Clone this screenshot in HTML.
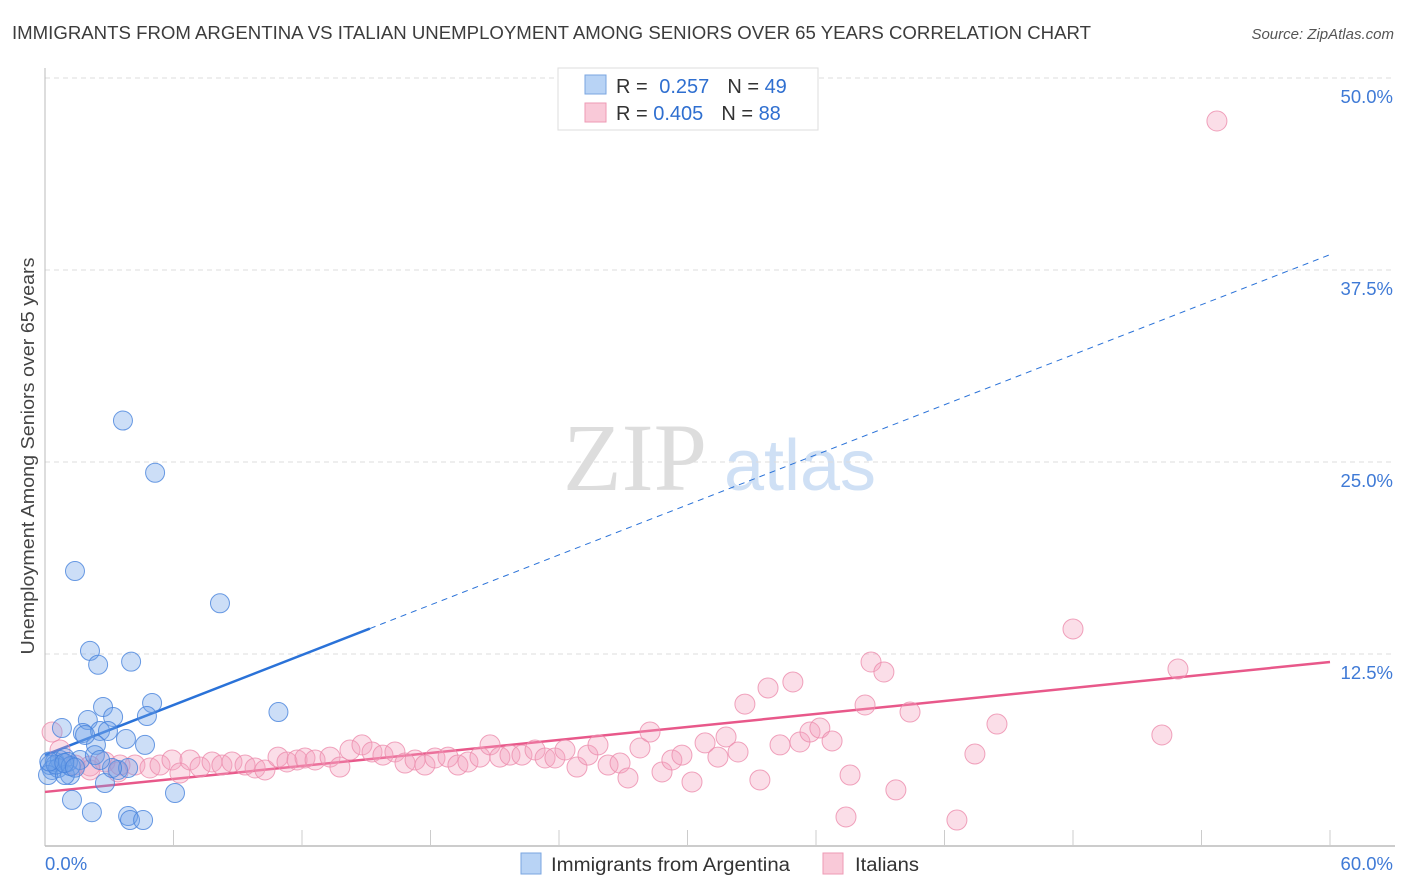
<!DOCTYPE html>
<html><head><meta charset="utf-8"><style>
body{margin:0;background:#fff;font-family:"Liberation Sans",sans-serif;}
#c{position:absolute;left:0;top:0;width:1406px;height:892px;}
</style></head><body>
<svg id="c" width="1406" height="892" font-family="Liberation Sans, sans-serif">
<text x="12" y="39" font-size="18" fill="#3c3c3c" textLength="1079" lengthAdjust="spacingAndGlyphs">IMMIGRANTS FROM ARGENTINA VS ITALIAN UNEMPLOYMENT AMONG SENIORS OVER 65 YEARS CORRELATION CHART</text>
<text x="1394" y="39" font-size="15" fill="#555" text-anchor="end" font-style="italic">Source: ZipAtlas.com</text>
<text transform="translate(34,456) rotate(-90)" font-size="18" fill="#444" text-anchor="middle" textLength="397" lengthAdjust="spacingAndGlyphs">Unemployment Among Seniors over 65 years</text>
<g><text x="635" y="490" font-size="96" font-family="Liberation Serif, serif" fill="#ddd" text-anchor="middle">ZIP</text><text x="800" y="490" font-size="72" fill="#cfe0f5" text-anchor="middle">atlas</text></g>
<g id="grid"></g><g id="axes"></g><g id="lines"></g><g id="pts"></g>
<g>
<rect x="558" y="68" width="260" height="62" fill="#fff" stroke="#ddd"/>
<rect x="585" y="75" width="21" height="19" fill="#b8d3f5" stroke="#7aa6e0"/>
<rect x="585" y="103" width="21" height="19" fill="#f9c9d8" stroke="#ee9ab4"/>
<text x="616" y="93" font-size="20" fill="#333">R = <tspan fill="#2f6fd0" dx="6">0.257</tspan><tspan fill="#333" dx="18">N = </tspan><tspan fill="#2f6fd0">49</tspan></text>
<text x="616" y="120" font-size="20" fill="#333">R = <tspan fill="#2f6fd0">0.405</tspan><tspan fill="#333" dx="18">N = </tspan><tspan fill="#2f6fd0">88</tspan></text>
</g>
<g>
<rect x="521" y="853" width="20" height="21" fill="#b8d3f5" stroke="#7aa6e0"/>
<text x="551" y="871" font-size="19" fill="#333" textLength="239" lengthAdjust="spacingAndGlyphs">Immigrants from Argentina</text>
<rect x="823" y="853" width="20" height="21" fill="#f9c9d8" stroke="#ee9ab4"/>
<text x="855" y="871" font-size="19" fill="#333" textLength="64" lengthAdjust="spacingAndGlyphs">Italians</text>
</g>
</svg>
<script>
const yTicks=[12.5,25,37.5,50];
const xTickLabels=["0.0%","60.0%"];
const blueX=[0.23,0.47,0.70,0.93,0.33,0.61,0.14,1.17,1.40,2.10,2.48,3.64,5.14,4.02,8.17,10.9,5.0,4.76,2.71,2.0,3.18,1.77,2.57,2.94,2.38,3.78,4.67,0.79,1.63,3.41,3.88,2.8,1.26,2.19,3.88,3.97,4.58,6.07,3.13,2.33,1.87,0.93,1.07,2.57,0.5,0.2,1.2,0.9,1.4];
const blueY=[5.27,5.47,5.60,5.73,4.95,5.08,4.62,4.62,17.9,12.7,11.8,27.7,24.3,12.0,15.8,8.72,9.31,8.46,9.05,8.2,8.4,7.36,7.49,7.49,6.58,6.97,6.58,7.68,5.6,4.95,5.08,4.1,3.0,2.2,1.95,1.69,1.69,3.45,5.08,5.92,7.23,4.62,5.47,5.6,5.3,5.5,5.2,5.4,5.1];
const pinkX=[0.33,0.70,1.40,2.10,2.80,3.41,4.20,4.90,5.37,5.93,6.30,6.77,7.24,7.80,8.26,8.73,9.34,9.81,10.27,10.88,11.30,11.77,12.14,12.61,13.31,13.77,14.24,14.80,15.27,15.78,16.34,16.81,17.28,17.74,18.21,18.82,19.28,19.75,20.31,20.78,21.24,21.71,22.27,22.88,23.35,23.81,24.28,24.84,25.35,25.82,26.29,26.85,27.22,27.78,28.25,28.81,29.27,29.74,30.21,30.82,31.42,31.80,32.36,32.68,33.38,33.76,34.32,34.92,35.25,35.72,36.18,36.75,37.59,37.40,38.29,38.57,39.17,39.73,40.39,42.58,43.42,44.45,48.0,52.15,52.9,54.72,2.10,3.50];
const pinkY=[7.42,6.25,5.27,4.95,5.47,4.82,5.27,5.08,5.27,5.60,4.75,5.60,5.14,5.47,5.27,5.47,5.27,5.08,4.95,5.79,5.47,5.60,5.73,5.60,5.79,5.14,6.25,6.58,6.12,5.92,6.12,5.40,5.60,5.27,5.73,5.79,5.27,5.47,5.79,6.58,5.79,5.92,5.92,6.25,5.73,5.73,6.25,5.14,5.92,6.58,5.27,5.40,4.43,6.38,7.42,4.82,5.60,5.92,4.17,6.71,5.79,7.10,6.12,9.24,4.30,10.29,6.58,10.68,6.77,7.42,7.68,6.84,4.62,1.89,9.18,11.98,11.33,3.65,8.72,1.69,5.99,7.94,14.13,7.23,11.52,47.2,5.21,5.27];
const blueTrend=[5.92,38.5], blueSolidEnd=15.17;
const pinkTrend=[3.52,11.98];
const NS="http://www.w3.org/2000/svg";
const X=v=>45+v/60*1285, Y=v=>846-v/12.5*192;
function mk(tag,attrs,parent){const e=document.createElementNS(NS,tag);for(const k in attrs)e.setAttribute(k,attrs[k]);document.getElementById(parent).appendChild(e);return e;}
yTicks.forEach(t=>{
 const l=mk('line',{x1:45,x2:1395,y1:Y(t),y2:Y(t),stroke:'#ddd','stroke-dasharray':'5,4'},'grid');
 
 
 const tx=mk('text',{x:1393,y:Y(t)+25,'font-size':18.5,fill:'#3f7ad6','text-anchor':'end'},'grid');
 tx.textContent=t.toFixed(1)+'%';
 
 
});
const ya=mk('line',{x1:45,x2:45,y1:68,y2:846,stroke:'#bbb'},'axes');


const xa=mk('line',{x1:45,x2:1395,y1:846,y2:846,stroke:'#bbb','stroke-width':1.5},'axes');


for(let i=1;i<=10;i++){const t=mk('line',{x1:X(i*6),x2:X(i*6),y1:830,y2:846,stroke:'#ccc'},'axes');
 
 }
[[0,'start',45],[60,'end',1393]].forEach((d,i)=>{const t=mk('text',{x:d[2],y:870,'font-size':18.5,fill:'#3f7ad6','text-anchor':d[1]},'axes');t.textContent=xTickLabels[i];
 
 });
const bl=v=>blueTrend[0]+(blueTrend[1]-blueTrend[0])*v/60;
const b1=mk('line',{x1:X(0),y1:Y(bl(0)),x2:X(blueSolidEnd),y2:Y(bl(blueSolidEnd)),stroke:'#2a72d8','stroke-width':2.5},'lines');


const b2=mk('line',{x1:X(blueSolidEnd),y1:Y(bl(blueSolidEnd)),x2:X(60),y2:Y(bl(60)),stroke:'#2a72d8','stroke-width':1,'stroke-dasharray':'6,5'},'lines');


const p1=mk('line',{x1:X(0),y1:Y(pinkTrend[0]),x2:X(60),y2:Y(pinkTrend[1]),stroke:'#e8588a','stroke-width':2.5},'lines');


pinkX.forEach((x,i)=>{const c=mk('circle',{cx:X(x),cy:Y(pinkY[i]),r:10,fill:'rgba(244,160,188,0.35)',stroke:'rgba(236,140,172,0.8)','stroke-width':1},'pts');
 
 });
blueX.forEach((x,i)=>{const c=mk('circle',{cx:X(x),cy:Y(blueY[i]),r:9.5,fill:'rgba(110,160,232,0.35)',stroke:'rgba(70,130,220,0.8)','stroke-width':1},'pts');
 
 });
</script>
</body></html>
